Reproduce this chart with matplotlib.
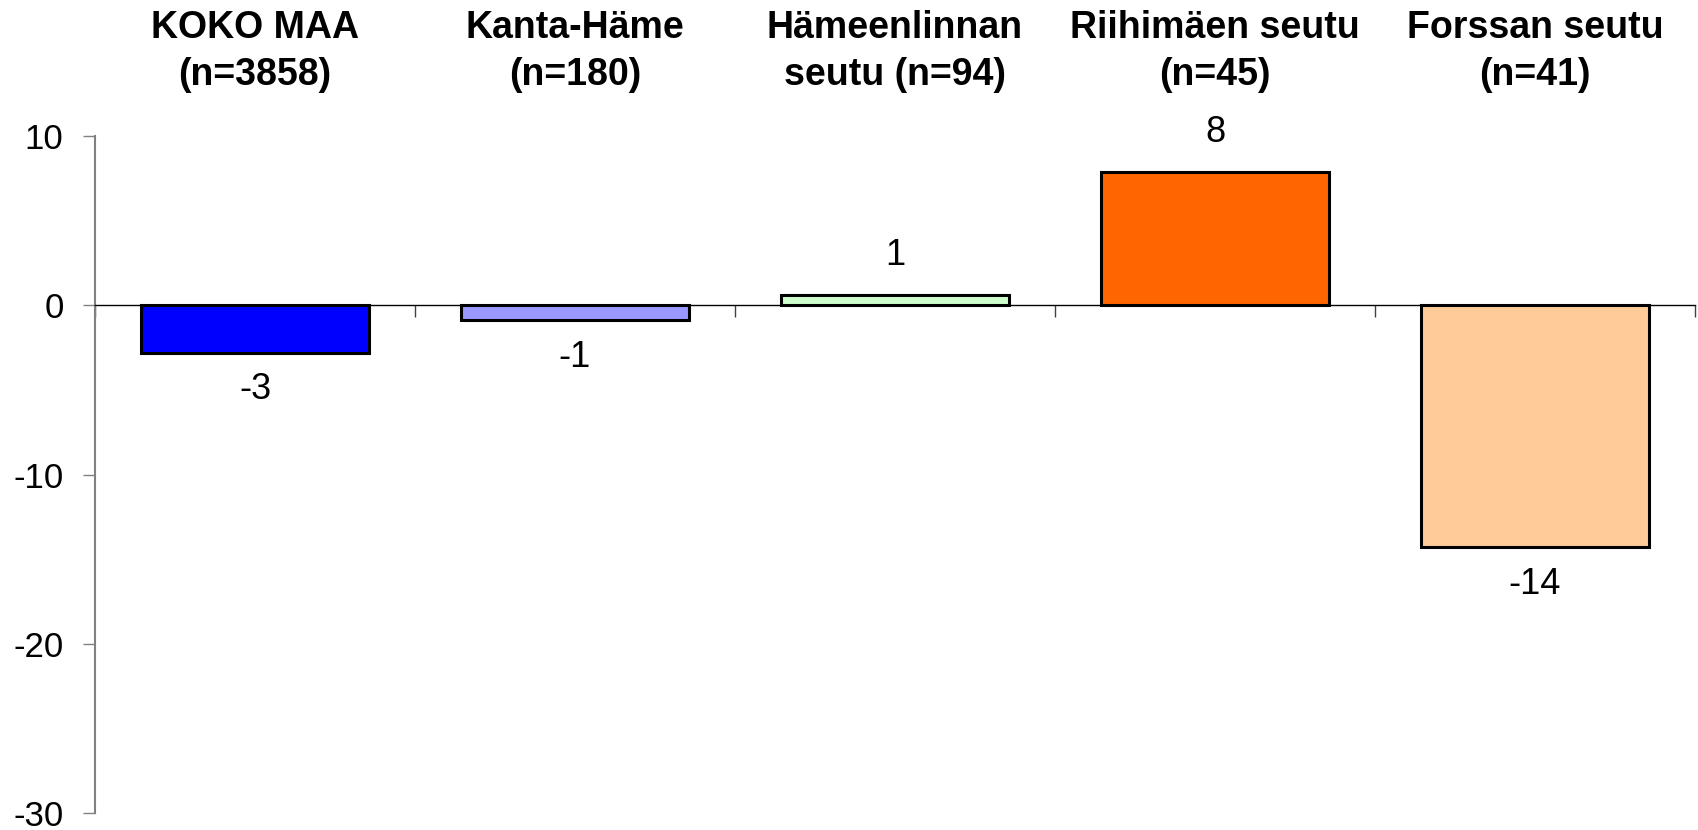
import matplotlib
matplotlib.use('Agg')
import matplotlib.pyplot as plt
import matplotlib.transforms as mtransforms
from matplotlib import font_manager

plt.rcParams['font.family'] = ['Liberation Sans', 'DejaVu Sans']
plt.rcParams['axes.unicode_minus'] = False

categories = ['KOKO MAA\n(n=3858)', 'Kanta-Häme\n(n=180)', 'Hämeenlinnan\nseutu (n=94)',
              'Riihimäen seutu\n(n=45)', 'Forssan seutu\n(n=41)']
values = [-2.8, -0.9, 0.6, 7.9, -14.3]
value_labels = ['-3', '-1', '1', '8', '-14']
colors = ['#0000FF', '#9999FF', '#CCFFCC', '#FF6600', '#FFCC99']
y_ticks = [-30, -20, -10, 0, 10]

# kapea fontti otsikoille jos löytyy
names = set(f.name for f in font_manager.fontManager.ttflist)
if 'Liberation Sans Narrow' in names:
    title_family = ['Liberation Sans Narrow', 'DejaVu Sans']
    title_size = 30
else:
    title_family = ['Liberation Sans', 'DejaVu Sans']
    title_size = 27

fig = plt.figure(figsize=(16.99, 8.30), dpi=100)
ax = fig.add_axes([95 / 1699, 17 / 830, 1600 / 1699, (813 - 136) / 830])

x = range(len(values))
ax.bar(x, values, width=0.71, color=colors, edgecolor='black', linewidth=2.2, zorder=3)

ax.set_xlim(-0.5, len(values) - 0.5)
ax.set_ylim(-30, 10)
ax.set_yticks(y_ticks)
ax.tick_params(axis='y', direction='out', length=8.6, width=1, color='#808080',
               labelsize=25, pad=14)

# x-akseli nollan kohdalla, tikit kategorioiden rajoilla
ax.spines['bottom'].set_position(('data', 0))
ax.spines['bottom'].set_color('black')
ax.spines['bottom'].set_linewidth(1)
ax.spines['left'].set_color('#808080')
ax.spines['left'].set_linewidth(1.5)
ax.spines['top'].set_visible(False)
ax.spines['right'].set_visible(False)
ax.set_xticks([i - 0.5 for i in range(len(values) + 1)])
ax.set_xticklabels([])
ax.tick_params(axis='x', direction='out', length=8.6, width=1, color='#404040')

# arvot palkkien päälle / alle
for i in range(len(values)):
    if values[i] >= 0:
        ax.annotate(value_labels[i], (i, values[i]), xytext=(0, 21.6), textcoords='offset points',
                    ha='center', va='baseline', fontsize=26)
    else:
        ax.annotate(value_labels[i], (i, values[i]), xytext=(0, -14), textcoords='offset points',
                    ha='center', va='top', fontsize=26)

# kategorioiden nimet ylhäällä
trans = mtransforms.blended_transform_factory(ax.transData, fig.transFigure)
for i in range(len(categories)):
    ax.text(i, 1 - 10 / 830, categories[i], transform=trans, ha='center', va='top',
            fontsize=title_size, fontweight='bold', family=title_family,
            linespacing=1.4, clip_on=False)

fig.savefig('out.png', dpi=100)
